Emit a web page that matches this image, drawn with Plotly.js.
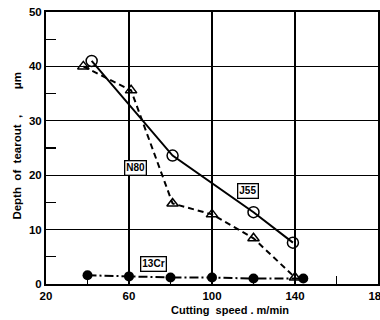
<!DOCTYPE html>
<html><head><meta charset="utf-8">
<script src="https://cdn.plot.ly/plotly-3.0.1.min.js"></script>
<style>html,body{margin:0;padding:0;background:#fff}#c{width:380px;height:320px}</style>
</head><body><div id="c"></div>
<script>
const j55Speed = [42, 81, 120, 139];
const j55Depth = [41, 23.6, 13.2, 7.6];
const n80Speed = [38, 61, 81, 100, 120, 140];
const n80Depth = [40, 35.6, 14.8, 12.8, 8.4, 1.2];
const cr13Speed = [40, 60, 80, 100, 120, 144];
const cr13Depth = [1.6, 1.4, 1.2, 1.2, 1.0, 1.0];
const xTicks = [20, 60, 100, 140, 180];
const yTicks = [0, 10, 20, 30, 40, 50];
const seriesLabels = [
  {text: 'N80', x: 63, y: 21.3},
  {text: 'J55', x: 117.5, y: 17.1},
  {text: '13Cr', x: 72, y: 3.7}
];

const F = 'Liberation Sans, Arial, sans-serif';
const traces = [
  {x: j55Speed, y: j55Depth, mode: 'lines+markers', name: 'J55',
   line: {color: '#000', width: 2, dash: 'solid'},
   marker: {symbol: 'circle-open', size: 11, color: '#000', line: {width: 1.5, color: '#000'}}},
  {x: n80Speed, y: n80Depth, mode: 'lines+markers', name: 'N80',
   line: {color: '#000', width: 2, dash: '6px,4px'},
   marker: {symbol: 'triangle-up-open', size: 10, color: '#000', line: {width: 1.5, color: '#000'}}},
  {x: cr13Speed, y: cr13Depth, mode: 'lines+markers', name: '13Cr',
   line: {color: '#000', width: 2, dash: '9px,3px,2px,3px'},
   marker: {symbol: 'circle', size: 10, color: '#000'}}
];

const layout = {
  width: 380, height: 320,
  margin: {l: 46, r: 2, t: 12, b: 36},
  paper_bgcolor: '#fff', plot_bgcolor: '#fff',
  showlegend: false,
  font: {family: F, color: '#000'},
  xaxis: {
    range: [20, 180], tickvals: xTicks, ticktext: xTicks.map(String),
    showgrid: true, gridcolor: '#000', gridwidth: 1.3,
    showline: true, linecolor: '#000', linewidth: 2, mirror: true,
    ticks: '', zeroline: false, ticklabeloverflow: 'allow',
    tickfont: {family: F, size: 11.5, color: '#000', weight: 'bold'},
    minor: {tickvals: [40, 80, 120, 160], ticks: 'inside', ticklen: 8, tickcolor: '#000', tickwidth: 1.3, showgrid: false}
  },
  yaxis: {
    range: [0, 50], tickvals: yTicks, ticktext: yTicks.map(String),
    showgrid: true, gridcolor: '#000', gridwidth: 1.3,
    showline: true, linecolor: '#000', linewidth: 2, mirror: true,
    ticks: '', zeroline: false,
    tickfont: {family: F, size: 11.5, color: '#000', weight: 'bold'},
    minor: {tickvals: [5, 15, 25, 35, 45], ticks: 'inside', ticklen: 10, tickcolor: '#000', tickwidth: 1.3, showgrid: false}
  },
  annotations: seriesLabels.map(l => ({
    text: '<b>' + l.text + '</b>', x: l.x, y: l.y, xref: 'x', yref: 'y', showarrow: false,
    font: {family: F, size: 10, color: '#000'}, bgcolor: '#fff', bordercolor: '#000', borderwidth: 1.3, borderpad: 1
  })).concat([
    {text: '<b>Cutting  speed . m/min</b>', xref: 'paper', yref: 'paper', x: 0.555, y: -0.097, yanchor: 'middle', xanchor: 'center',
     showarrow: false, font: {family: F, size: 11, color: '#000'}},
    {text: '<b>Depth  of  tearout  ,        μm</b>', xref: 'paper', yref: 'paper', x: -0.088, y: 0.508, xanchor: 'center', yanchor: 'middle',
     textangle: -90, showarrow: false, font: {family: F, size: 11.5, color: '#000'}}
  ])
};
Plotly.newPlot('c', traces, layout, {displayModeBar: false, staticPlot: true});
</script></body></html>
